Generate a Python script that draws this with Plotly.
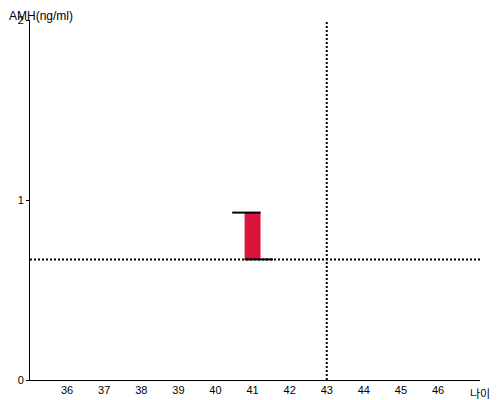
import plotly.graph_objects as go

# data
age = [41]
amh_low = [0.67]
amh_high = [0.93]
ref_age = 43
ref_amh = 0.67
x_ticks = [36, 37, 38, 39, 40, 41, 42, 43, 44, 45, 46]
y_ticks = [0, 1, 2]

BAR_W = 0.43
FONT = "Liberation Sans, Arial, sans-serif"

fig = go.Figure()

# range bar
fig.add_trace(go.Bar(
    x=age,
    y=[h - l for h, l in zip(amh_high, amh_low)],
    base=amh_low,
    width=BAR_W,
    marker=dict(color="#DC143C", line=dict(width=0)),
    hoverinfo="skip",
))

# top cap (shifted left) and bottom cap (shifted right)
for a, lo, hi in zip(age, amh_low, amh_high):
    fig.add_trace(go.Scatter(
        x=[a - 0.55, a + BAR_W / 2], y=[hi, hi], mode="lines",
        line=dict(color="black", width=2), hoverinfo="skip",
    ))
    fig.add_trace(go.Scatter(
        x=[a - BAR_W / 2, a + 0.55], y=[lo, lo], mode="lines",
        line=dict(color="black", width=2), hoverinfo="skip",
    ))

# reference lines
fig.add_shape(type="line", xref="paper", yref="y", x0=0, x1=1, y0=ref_amh, y1=ref_amh,
              line=dict(color="black", width=2, dash="2px,2px"), layer="above")
fig.add_shape(type="line", xref="x", yref="paper", x0=ref_age, x1=ref_age, y0=0, y1=1,
              line=dict(color="black", width=2, dash="2px,2px"), layer="above")

fig.add_annotation(text="AMH(ng/ml)", xref="paper", yref="paper", x=-0.0489, y=1.034,
                   xanchor="left", yanchor="top", showarrow=False, borderpad=0,
                   font=dict(size=12, color="black", family=FONT))
fig.add_annotation(text="나이", xref="paper", yref="paper", x=1.024, y=-0.012,
                   xanchor="right", yanchor="top", showarrow=False, borderpad=0,
                   font=dict(size=11, color="black", family="Noto Sans CJK KR"))

# the page body sits 8px in from the window edge, so the figure is sized to fit
fig.update_layout(
    width=492, height=392,
    showlegend=False,
    plot_bgcolor="white",
    paper_bgcolor="white",
    margin=dict(l=22, r=20, t=12, b=20),
    font=dict(family=FONT, size=11, color="black"),
    xaxis=dict(
        range=[35, 47.13],
        tickvals=x_ticks,
        showgrid=False, zeroline=False, automargin=False,
        showline=True, linecolor="black", linewidth=1,
        ticks="", tickfont=dict(size=11, color="black"),
    ),
    yaxis=dict(
        range=[0, 2],
        tickvals=y_ticks,
        showgrid=False, zeroline=False, automargin=False,
        showline=True, linecolor="black", linewidth=1,
        ticks="outside", ticklen=3, tickcolor="black",
        tickfont=dict(size=11, color="black"),
    ),
)

fig.write_html("out.html")
